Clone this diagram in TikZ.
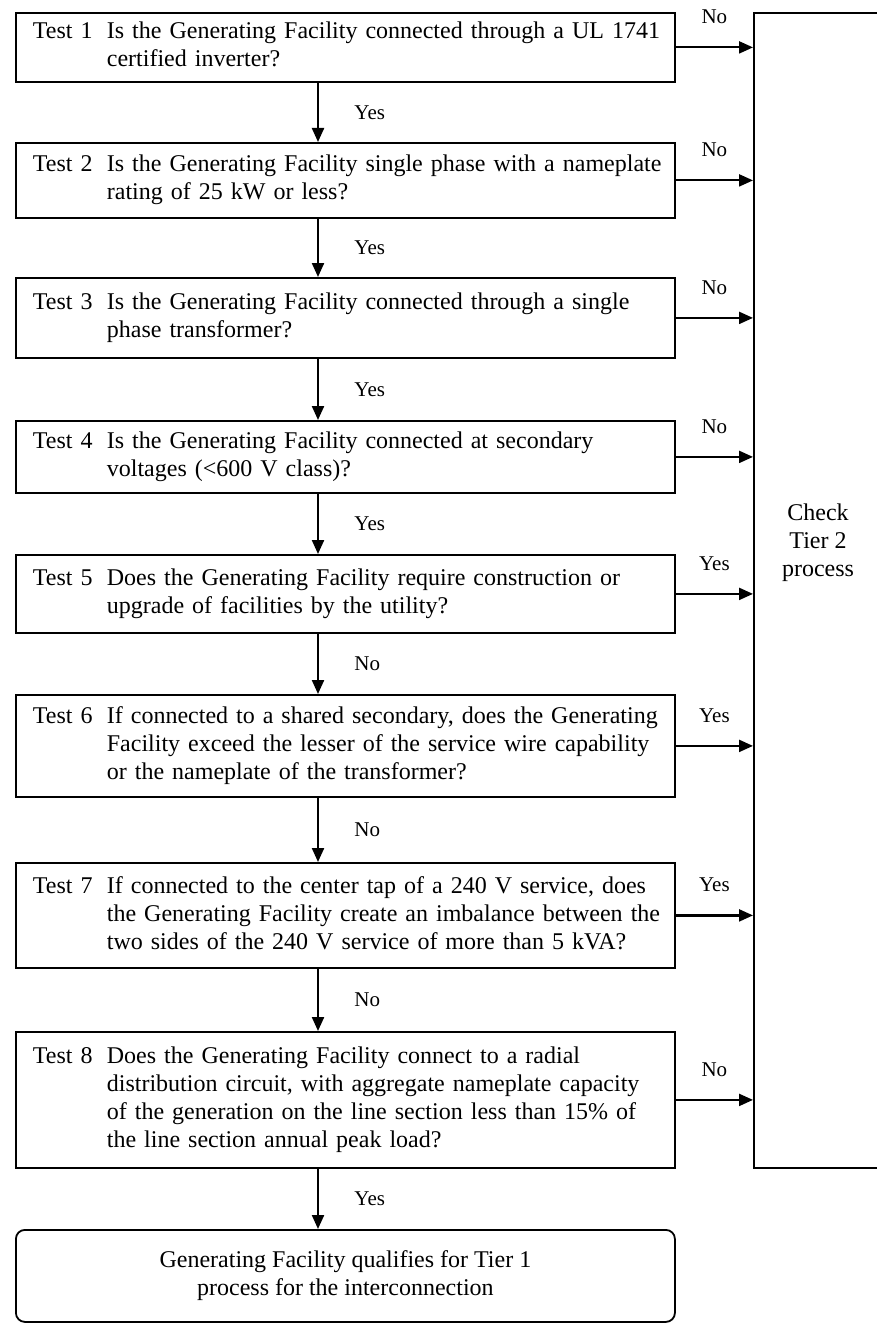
\documentclass[tikz,border=0pt]{standalone}
\usepackage{fontspec}
\setmainfont{Liberation Serif}
\usetikzlibrary{arrows.meta, positioning}

\newcommand{\testfont}{\fontsize{24}{28}\selectfont}
\newcommand{\answerfont}{\fontsize{21}{24}\selectfont}
\newcommand{\testtext}[2]{\makebox[74pt][l]{Test #1}\begin{tabular}[t]{@{}l@{}}#2\end{tabular}}

\begin{document}
\begin{tikzpicture}[x=1pt, y=-1pt,
    testbox/.style={draw, line width=1.8pt, anchor=north west, text width=625pt,
        inner xsep=17pt, inner ysep=0pt, align=left, font=\testfont},
    flow/.style={-{Triangle[length=14pt, width=12pt]}, line width=2.2pt},
    answer/.style={font=\answerfont}]
    \useasboundingbox (0,0) rectangle (876,1324);
    \coordinate (stem) at (318,0);
    % the eight tests
    \node[testbox, minimum height=69pt] (t1) at (15,12) {\testtext{1}{Is the Generating Facility connected through a UL 1741\\certified inverter?}};
    \node[testbox, minimum height=75pt] (t2) at (15,142) {\testtext{2}{Is the Generating Facility single phase with a nameplate\\rating of 25 kW or less?}};
    \node[testbox, minimum height=80pt] (t3) at (15,277) {\testtext{3}{Is the Generating Facility connected through a single\\phase transformer?}};
    \node[testbox, minimum height=72pt] (t4) at (15,420) {\testtext{4}{Is the Generating Facility connected at secondary\\voltages (<600 V class)?}};
    \node[testbox, minimum height=78pt] (t5) at (15,554) {\testtext{5}{Does the Generating Facility require construction or\\upgrade of facilities by the utility?}};
    \node[testbox, minimum height=102pt] (t6) at (15,694) {\testtext{6}{If connected to a shared secondary, does the Generating\\Facility exceed the lesser of the service wire capability\\or the nameplate of the transformer?}};
    \node[testbox, minimum height=105pt] (t7) at (15,862) {\testtext{7}{If connected to the center tap of a 240 V service, does\\the Generating Facility create an imbalance between the\\two sides of the 240 V service of more than 5 kVA?}};
    \node[testbox, minimum height=136pt] (t8) at (15,1031) {\testtext{8}{Does the Generating Facility connect to a radial\\distribution circuit, with aggregate nameplate capacity\\of the generation on the line section less than 15\% of\\the line section annual peak load?}};
    \node[draw, line width=1.8pt, rounded corners=9pt, anchor=north west, minimum width=659pt,
        minimum height=92pt, align=center, font=\testfont] (tier1) at (15,1229) {Generating Facility qualifies for Tier 1\\process for the interconnection};
    % tier 2 column
    \node[draw, line width=1.8pt, anchor=north west, minimum width=140pt, minimum height=1155pt] (tier2) at (753,12) {};
    \node[font=\testfont, align=center] (tier2txt) at (818,543) {Check\\Tier 2\\process};
    % down the column
    \draw[flow] (t1.south -| stem) -- (t2.north -| stem) node[midway, right=32pt, answer] {Yes};
    \draw[flow] (t2.south -| stem) -- (t3.north -| stem) node[midway, right=32pt, answer] {Yes};
    \draw[flow] (t3.south -| stem) -- (t4.north -| stem) node[midway, right=32pt, answer] {Yes};
    \draw[flow] (t4.south -| stem) -- (t5.north -| stem) node[midway, right=32pt, answer] {Yes};
    \draw[flow] (t5.south -| stem) -- (t6.north -| stem) node[midway, right=32pt, answer] {No};
    \draw[flow] (t6.south -| stem) -- (t7.north -| stem) node[midway, right=32pt, answer] {No};
    \draw[flow] (t7.south -| stem) -- (t8.north -| stem) node[midway, right=32pt, answer] {No};
    \draw[flow] (t8.south -| stem) -- (tier1.north -| stem) node[midway, right=32pt, answer] {Yes};
    % over to tier 2
    \foreach \t/\a in {t1/No, t2/No, t3/No, t4/No, t5/Yes, t6/Yes, t7/Yes, t8/No}
        \draw[flow] (\t.east) -- (\t.east -| tier2.west) node[midway, above=19pt, answer] {\a};
\end{tikzpicture}
\end{document}
